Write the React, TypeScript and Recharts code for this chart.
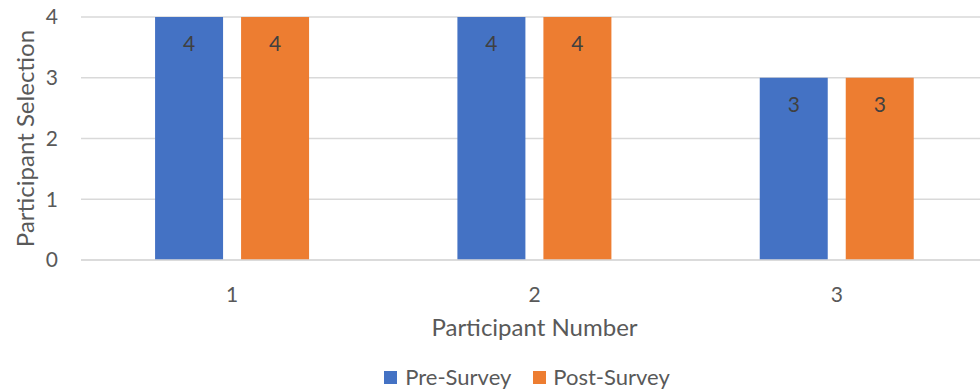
import React from "react";
import { BarChart, Bar, XAxis, YAxis, CartesianGrid, LabelList, Label, Legend } from "recharts";

const categories = ["1", "2", "3"];
const preSurvey = [4, 4, 3];
const postSurvey = [4, 4, 3];
const yTicks = [0, 1, 2, 3, 4];

const data = categories.map((c, i) => ({ name: c, pre: preSurvey[i], post: postSurvey[i] }));

const FONT = "Lato, 'Open Sans', sans-serif";
const TEXT = "#595959";

const LegendContent = () => (
  <div style={{ display: "flex", justifyContent: "center", fontFamily: FONT, fontSize: 22, color: TEXT, lineHeight: "24px" }}>
    <div style={{ display: "flex", alignItems: "center", marginRight: 22 }}>
      <span style={{ display: "inline-block", width: 13, height: 13, background: "#4472C4", marginRight: 8 }} />
      Pre-Survey
    </div>
    <div style={{ display: "flex", alignItems: "center" }}>
      <span style={{ display: "inline-block", width: 13, height: 13, background: "#ED7D31", marginRight: 7 }} />
      Post-Survey
    </div>
  </div>
);

export default function App() {
  return (
    <div style={{ position: "absolute", left: 0, top: 0, width: 980, height: 389, overflow: "hidden", background: "#fff" }}>
      <BarChart
        width={988}
        height={389}
        data={data}
        margin={{ top: 17, right: 0, bottom: 25, left: 0 }}
        barCategoryGap="24.5%"
        barGap={18}
      >
        <CartesianGrid vertical={false} stroke="#D9D9D9" strokeWidth={1.5} />
        <XAxis
          dataKey="name"
          axisLine={{ stroke: "#D9D9D9", strokeWidth: 1.5 }}
          tickLine={false}
          tickSize={0}
          tickMargin={27}
          height={80}
          tick={{ fill: TEXT, fontSize: 21, fontFamily: FONT }}
        >
          <Label value="Participant Number" position="insideBottom" offset={4} fill={TEXT} fontSize={24} fontFamily={FONT} />
        </XAxis>
        <YAxis
          domain={[0, 4]}
          ticks={yTicks}
          width={81}
          axisLine={false}
          tickLine={false}
          tickSize={0}
          tickMargin={23}
          tick={{ fill: TEXT, fontSize: 21, fontFamily: FONT }}
        >
          <Label value="Participant Selection" angle={-90} position="insideLeft" offset={25} fill={TEXT} fontSize={24} fontFamily={FONT} style={{ textAnchor: "middle" }} />
        </YAxis>
        <Legend verticalAlign="bottom" content={<LegendContent />} wrapperStyle={{ left: 0, width: 1054, bottom: 0 }} />
        <Bar dataKey="pre" name="Pre-Survey" fill="#4472C4" isAnimationActive={false}>
          <LabelList dataKey="pre" position="insideTop" offset={19} fill="#404040" fontSize={21} fontFamily={FONT} />
        </Bar>
        <Bar dataKey="post" name="Post-Survey" fill="#ED7D31" isAnimationActive={false}>
          <LabelList dataKey="post" position="insideTop" offset={19} fill="#404040" fontSize={21} fontFamily={FONT} />
        </Bar>
      </BarChart>
    </div>
  );
}
